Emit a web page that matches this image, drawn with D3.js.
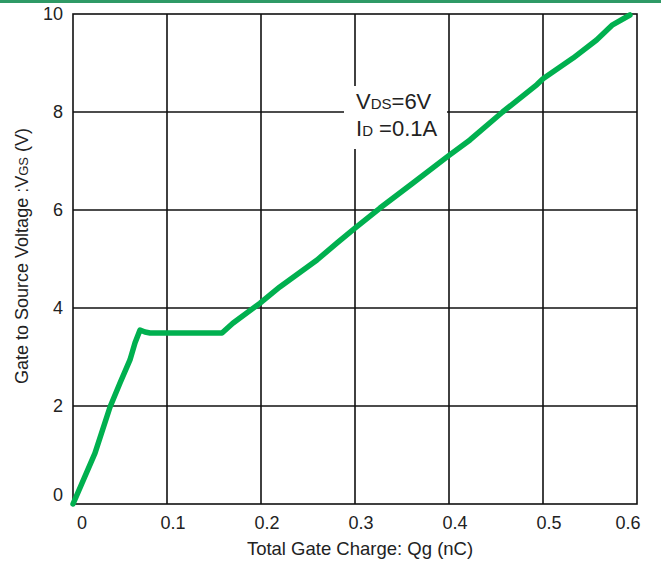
<!DOCTYPE html>
<html>
<head>
<meta charset="utf-8">
<script src="https://cdn.jsdelivr.net/npm/d3@7"></script>
<style>
  body { margin: 0; background: #fff; }
  text { font-family: "Liberation Sans", Arial, sans-serif; fill: #222; }
</style>
</head>
<body>
<div id="graph"></div>
<script>
// gate charge curve
var qg  = [0, 0.0234, 0.0394, 0.05, 0.0606, 0.066, 0.0713, 0.0766, 0.082, 0.1585, 0.170, 0.199, 0.220, 0.2596, 0.281, 0.300, 0.3266, 0.3617, 0.399, 0.4223, 0.457, 0.4936, 0.5, 0.532, 0.557, 0.574, 0.5925];
var vgs = [0, 1.04, 1.98, 2.47, 2.94, 3.29, 3.55, 3.51, 3.49, 3.49, 3.69, 4.10, 4.43, 4.98, 5.33, 5.63, 6.04, 6.55, 7.1, 7.43, 8.0, 8.56, 8.68, 9.10, 9.47, 9.78, 9.98];

var xTicks = [0, 0.1, 0.2, 0.3, 0.4, 0.5, 0.6];
var xTickLabels = ["0", "0.1", "0.2", "0.3", "0.4", "0.5", "0.6"];
var yTicks = [0, 2, 4, 6, 8, 10];

const W = 661, H = 565;
const plot = {left: 73, right: 637, top: 14, bottom: 504};

var svg = d3.select("#graph").append("svg")
  .attr("width", W)
  .attr("height", H);

// green strip at the top
svg.append("rect")
  .attr("x", 0).attr("y", 0)
  .attr("width", W).attr("height", 3)
  .attr("fill", "#2f9a66");

var x = d3.scaleLinear().domain([0, 0.6]).range([plot.left, plot.right]);
var y = d3.scaleLinear().domain([0, 10]).range([plot.bottom, plot.top]);

//grid lines
svg.append("g")
  .selectAll("line")
  .data(xTicks.slice(1, -1))
  .enter().append("line")
  .attr("x1", d => x(d)).attr("x2", d => x(d))
  .attr("y1", plot.top).attr("y2", plot.bottom)
  .attr("stroke", "#111").attr("stroke-width", 1.6);

svg.append("g")
  .selectAll("line")
  .data(yTicks.slice(1, -1))
  .enter().append("line")
  .attr("y1", d => y(d)).attr("y2", d => y(d))
  .attr("x1", plot.left).attr("x2", plot.right)
  .attr("stroke", "#111").attr("stroke-width", 1.6);

// frame
svg.append("rect")
  .attr("x", plot.left).attr("y", plot.top)
  .attr("width", plot.right - plot.left).attr("height", plot.bottom - plot.top)
  .attr("fill", "none")
  .attr("stroke", "#111").attr("stroke-width", 1.6);

// annotation box
svg.append("rect")
  .attr("x", 344).attr("y", 86)
  .attr("width", 103).attr("height", 63)
  .attr("fill", "#fff");

var note1 = svg.append("text").attr("x", 356).attr("y", 109).style("font-size", "22px");
note1.append("tspan").text("V");
note1.append("tspan").style("font-size", "15px").text("DS");
note1.append("tspan").text("=6V");

var note2 = svg.append("text").attr("x", 356).attr("y", 136).style("font-size", "22px");
note2.append("tspan").text("I");
note2.append("tspan").style("font-size", "15px").text("D");
note2.append("tspan").text(" =0.1A");

// curve
var line = d3.line()
  .x(d => x(d[0]))
  .y(d => y(d[1]));

svg.append("path")
  .datum(d3.zip(qg, vgs))
  .attr("d", line)
  .attr("fill", "none")
  .attr("stroke", "#00b04f")
  .attr("stroke-width", 5.5)
  .attr("stroke-linejoin", "round")
  .attr("stroke-linecap", "round");

// tick labels
svg.append("g")
  .selectAll("text")
  .data(yTicks)
  .enter().append("text")
  .attr("x", 63)
  .attr("y", d => d == 0 ? y(d) - 9 : y(d))
  .attr("dy", "0.35em")
  .attr("text-anchor", "end")
  .style("font-size", "18px")
  .text(d => d);

svg.append("g")
  .selectAll("text")
  .data(xTicks)
  .enter().append("text")
  .attr("x", (d, i) => i == 0 ? x(d) + 9 : (i == xTicks.length - 1 ? x(d) - 9 : x(d) + 6))
  .attr("y", 529)
  .attr("text-anchor", "middle")
  .style("font-size", "18px")
  .text((d, i) => xTickLabels[i]);

// axis titles
svg.append("text")
  .attr("x", 360).attr("y", 555)
  .attr("text-anchor", "middle")
  .style("font-size", "18.5px")
  .text("Total Gate Charge: Qg (nC)");

var ylab = svg.append("text")
  .attr("transform", "translate(28,256) rotate(-90)")
  .attr("text-anchor", "middle")
  .style("font-size", "18px");
ylab.append("tspan").text("Gate to Source Voltage :V");
ylab.append("tspan").style("font-size", "13px").text("GS");
ylab.append("tspan").text(" (V)");
</script>
</body>
</html>
